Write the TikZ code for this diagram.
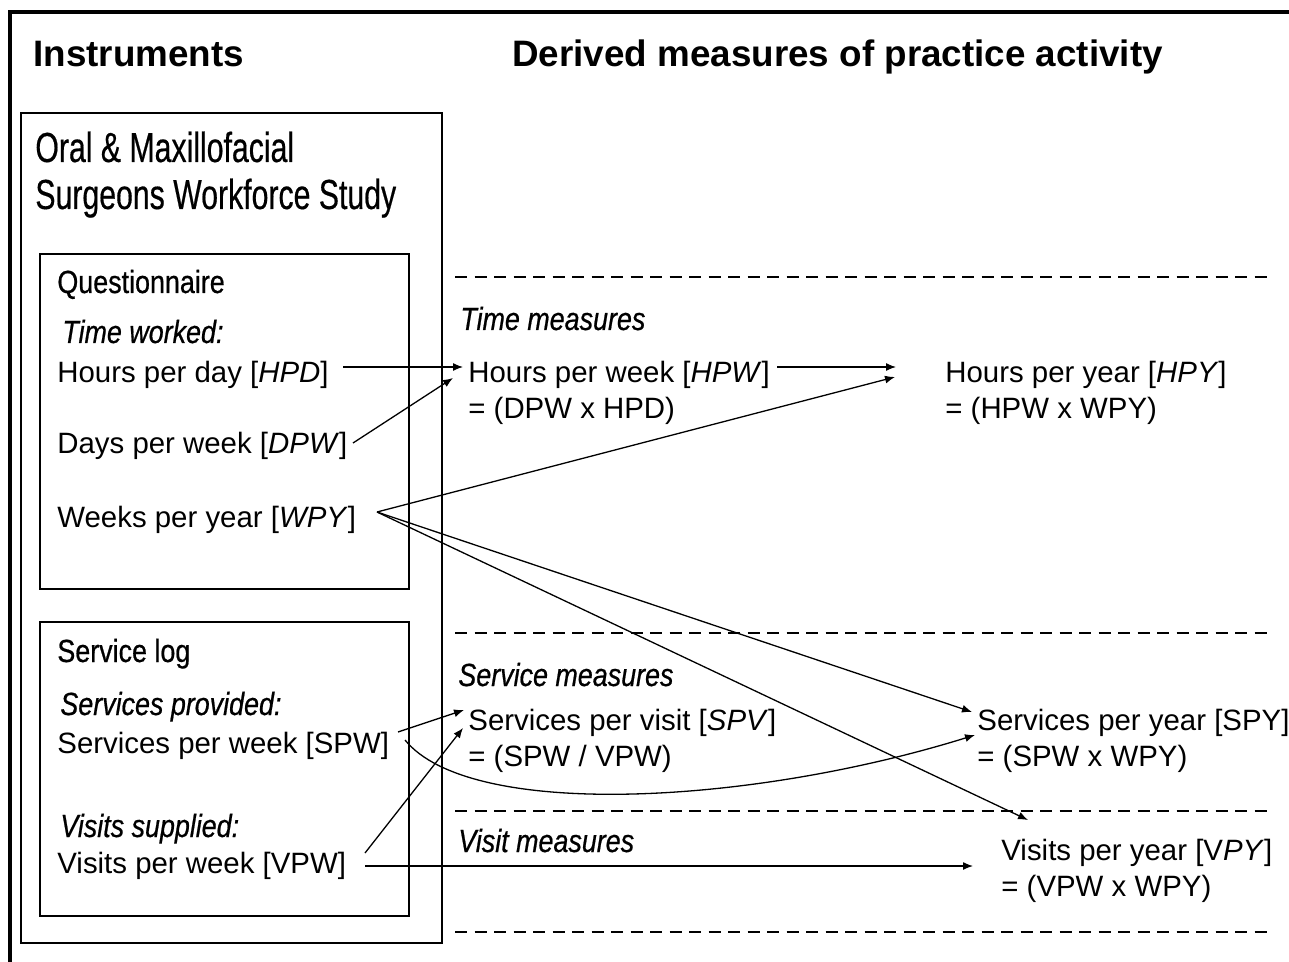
\documentclass[tikz,border=0pt]{standalone}
\usepackage{fontspec}
\setmainfont{Liberation Sans}
\newfontfamily\condfont[FakeStretch=0.84,FakeBold=0.6]{Liberation Sans}
\newfontfamily\titlefont[FakeStretch=0.72,FakeBold=0.4]{Liberation Sans}
\usetikzlibrary{arrows.meta}
\begin{document}
\begin{tikzpicture}[x=0.5pt,y=-0.5pt,
  txt/.style={anchor=base west,inner sep=0pt,font=\fontsize{14.7}{17}\selectfont},
  cond/.style={anchor=base west,inner sep=0pt,font=\condfont\fontsize{16}{19}\selectfont},
  condit/.style={anchor=base west,inner sep=0pt,font=\condfont\itshape\fontsize{16}{19}\selectfont},
  head/.style={anchor=base west,inner sep=0pt,font=\bfseries\fontsize{18.4}{22}\selectfont},
  ttl/.style={anchor=base west,inner sep=0pt,font=\titlefont\fontsize{21}{25}\selectfont},
  box/.style={draw,line width=0.75pt},
  sep/.style={line width=0.7pt,dash pattern=on 6pt off 3.75pt},
  arr/.style={line width=0.65pt,-{Latex[length=5pt,width=4pt]}},
]
\useasboundingbox[fill=white] (0,0) rectangle (1289,962);
% outer frame (cut by the page edges)
\draw[line width=1.8pt] (10,970) -- (10,12) -- (1300,12);
% boxes
\draw[box] (21,113) rectangle (442,943);
\draw[box] (40,254) rectangle (409,589);
\draw[box] (40,622) rectangle (409,916);
% separators
\foreach \yy in {277,633,811,932} \draw[sep] (455,\yy) -- (1274,\yy);
% headings
\node[head] (h1) at (33,67) {Instruments};
\node[head] (h2) at (512,67) {Derived measures of practice activity};
\node[ttl] (t1) at (35,162) {Oral \& Maxillofacial};
\node[ttl] (t2) at (35,209) {Surgeons Workforce Study};
% questionnaire
\node[cond] (quest) at (57,293) {Questionnaire};
\node[condit] (timew) at (62,343) {Time worked:};
\node[txt] (hpd) at (57,382) {Hours per day [\textit{HPD}]};
\node[txt] (dpw) at (57,453) {Days per week [\textit{DPW}]};
\node[txt] (wpy) at (57,527) {Weeks per year [\textit{WPY}]};
% service log
\node[cond] (slog) at (57,662) {Service log};
\node[condit] (sprov) at (60,715) {Services provided:};
\node[txt] (spw) at (57,753) {Services per week [SPW]};
\node[condit] (vsup) at (60,837) {Visits supplied:};
\node[txt] (vpw) at (57,873) {Visits per week [VPW]};
% derived measures
\node[condit] (timem) at (460,330) {Time measures};
\node[txt] (hpw) at (468,382) {Hours per week [\textit{HPW}]};
\node[txt] (hpweq) at (468,418) {= (DPW x HPD)};
\node[txt] (hpy) at (945,382) {Hours per year [\textit{HPY}]};
\node[txt] (hpyeq) at (945,418) {= (HPW x WPY)};
\node[condit] (servm) at (458,686) {Service measures};
\node[txt] (spv) at (468,730) {Services per visit [\textit{SPV}]};
\node[txt] (spveq) at (468,766) {= (SPW / VPW)};
\node[txt] (spy) at (977,730) {Services per year [SPY]};
\node[txt] (spyeq) at (977,766) {= (SPW x WPY)};
\node[condit] (visitm) at (458,852) {Visit measures};
\node[txt] (vpy) at (1001,860) {Visits per year [V\textit{PY}]};
\node[txt] (vpyeq) at (1001,896) {= (VPW x WPY)};
% connector end points
\coordinate (hpdout) at (343,367);
\coordinate (hpwin) at (463,367);
\coordinate (dpwout) at (353,443);
\coordinate (hpwin2) at (453,378);
\coordinate (hpwout) at (777,367);
\coordinate (hpyin) at (896,367);
\coordinate (wpyout) at (377,512);
\coordinate (hpyin2) at (895,377);
\coordinate (spyin) at (972,712);
\coordinate (vpyin) at (1028,820);
\coordinate (spwout) at (398,732);
\coordinate (spvin) at (464,710);
\coordinate (vpwout) at (365,853);
\coordinate (spvin2) at (463,728);
\coordinate (spwout2) at (405,740);
\coordinate (spyin2) at (975,735);
\coordinate (vpwout2) at (365,866);
\coordinate (vpyin2) at (973,866);
% connectors
\draw[arr] (hpdout) -- (hpwin);
\draw[arr] (dpwout) -- (hpwin2);
\draw[arr] (hpwout) -- (hpyin);
\draw[arr] (wpyout) -- (hpyin2);
\draw[arr] (wpyout) -- (spyin);
\draw[arr] (wpyout) -- (vpyin);
\draw[arr] (spwout) -- (spvin);
\draw[arr] (vpwout) -- (spvin2);
\draw[arr] (spwout2) .. controls (470,820) and (750,805) .. (spyin2);
\draw[arr] (vpwout2) -- (vpyin2);
\end{tikzpicture}
\end{document}
